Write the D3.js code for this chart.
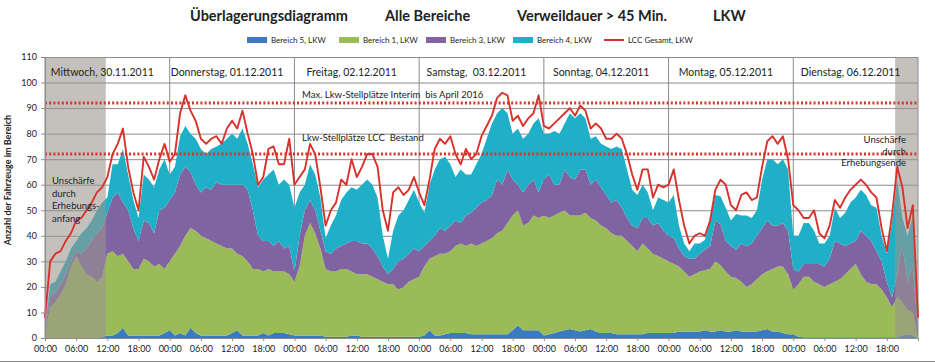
<!DOCTYPE html>
<html>
<head>
<meta charset="utf-8">
<script src="https://cdn.jsdelivr.net/npm/d3@7"></script>
<style>
  body { margin: 0; background: #fff; }
  svg { font-family: Lato, "Open Sans", sans-serif; }
  svg text { fill: #222; }
</style>
</head>
<body>
<svg id="chart" width="935" height="363"></svg>
<script>
// hourly values, Mi 30.11.2011 00:00 .. Mi 07.12.2011 00:00 (169 points)
var bereich5 = [0,0,0,0,0,0,0,0,0,0,0,
  0.5,1,1,2,4,1,1,1,1,1,
  1,1,2,3,1,2,1,4,2,1,
  1,1,1,1,1,2,3,1,1,1,
  1,2,1,2,2,2,1.5,1,1,1,
  1,1,1,0.5,0.5,0.5,0.5,0.5,1,1,
  0.5,0.5,0.5,0.5,0.5,0.5,0.5,0.5,0.5,0.5,
  0.5,0.5,1,3,1,1,1.5,2,2,2,
  2,1.5,1.5,1.5,1.5,1.5,1.5,1.5,1.5,3,
  5,3,3,3,3,1,1.5,2,2.5,3,
  3.5,3,2.5,3,3.5,2.5,2,2,2,1.5,
  1.5,1.5,1.5,1.5,1.5,2,2,2,2,2,
  2,2.5,2.5,2.5,2.5,2.5,3,2.5,2.5,3,
  2.5,2.5,3,2.5,2.5,2.5,2.5,3,3.5,2.5,
  2.5,2,1.5,1.5,0.5,0.3,0.3,0.3,0.3,0.3,
  0.3,0.3,0.3,0.3,0.3,0.3,0.3,0.3,0.3,0.3,
  0.3,0.3,0.3,0.3,1,1.5,1,0]
var bereich1 = [2,12,14,17,21,28,32,28,25,24,22,
  23.5,32,33,30,29,29,26,26,30,29,
  27,28,25,27,32,34,39,39,40,39,
  38,37,36,35,34,33,30,31,29,26,
  26,24,26,24,24,24,23.5,21,27,39,
  44,40,34,26.5,25.5,25.5,26.5,26.5,25,24,
  24.5,24.5,23.5,22.5,21.5,20.5,20.5,18.5,19.5,21.5,
  22.5,23.5,27,28,31,32,31.5,32,34,35,
  34,35.5,34.5,35.5,36.5,37.5,39.5,40.5,43.5,45,
  45,41,42,45,44,47,45.5,46,46.5,47,
  44.5,45,45.5,46,43.5,43.5,42,41,39,38.5,
  38.5,36.5,34.5,32.5,35.5,33,31,30,29,28,
  27,25.5,23.5,21.5,22.5,23.5,23.5,24.5,27.5,25.5,
  23.5,21.5,20.5,19.5,17.5,18.5,20.5,22,22.5,24.5,
  25.5,26,23.5,17.5,20.5,23.7,23.7,21.7,20.7,19.7,
  20.7,21.7,22.7,24.7,26.7,28.7,24.7,21.7,20.7,20.7,
  18.7,15.7,11.7,15.7,13,9.5,9,0]
var bereich3 = [1,4,4,4,4,2,2,5,10,14,19,
  19,16,21,25,20,20,16,11,15,15,
  13,21,24,24,24,28,27,22,18,17,
  20,20,24,24,25,25,27,28,28,23,
  13,12,11,10,12,9,11,4,12,10,
  9,9,7,7,7,9,9,10,12,13,
  12,12,11,9,6,4,6,11,11,11,
  12,10,8,7,8,10,9,10,10,8,
  12,12,15,16,16,17,21,18,21,14,
  10,13,15,14,10,14,17,12,11,16,
  15,14,18,17,13,16,15,13,12,14,
  11,9,8,9,10,12,11,13,11,10,
  10,7,6,7,6,7,8,9,16,16,
  12,12,11,15,16,16,17,18,20,17,
  16,17,17,8,5,5,5,7,8,8,
  10,16,14,11,10,9,17,18,17,13,
  11,6,4,9,22,11,18,3]
var bereich4 = [1,5,4,5,5,5,4,8,8,8,9,
  10,6,13,11,21,14,11,9,18,17,
  18,16,19,10,10,15,16,15,18,17,
  13,16,14,16,18,20,18,22,18,18,
  19,24,26,30,22,27,24,25,17,10,
  14,14,13,5,11,13,18,20,21,20,
  23,25,25,23,12,6,15,18,19,21,
  23,19,13,22,26,27,29,24,17,21,
  16,15,17,19,24,28,26,30,22,18,
  22,21,20,22,29,18,16,21,20,18,
  25,24,22,20,18,17,17,19,21,21,
  23,19,14,13,13,10,6,10,12,13,
  17,9,5,3,6,4,4,10,10,11,
  13,10,14,11,12,10,10,19,24,26,
  24,25,24,13,14,16,16,13,8,9,
  9,13,10,13,16,17,16,16,14,17,
  10,11,29,37,11,18,20,2]
var gesamt = [8,30,33,34,38,41,46,47,50,53,57,
  59,63,72,76,82,67,57,50,71,67,
  62,70,76,69,72,88,95,89,85,78,
  76,78,79,76,82,85,82,89,80,72,
  60,63,74,75,68,68,78,60,63,66,
  76,72,59,44,50,53,62,60,70,63,
  67,72,72,67,50,42,57,59,56,58,
  63,57,52,62,74,78,76,79,72,68,
  74,70,72,79,83,87,94,96,95,85,
  87,83,86,88,95,83,82,84,86,88,
  90,87,91,89,82,84,82,78,78,80,
  78,72,64,58,66,66,55,60,59,60,
  66,54,44,37,40,41,40,46,58,62,
  60,52,50,56,57,54,55,67,77,79,
  76,79,70,52,50,47,47,50,41,39,
  44,54,51,55,58,60,62,60,57,55,
  43,34,48,67,59,43,52,8]

var seriesNames = ["Bereich 5, LKW", "Bereich 1, LKW", "Bereich 3, LKW", "Bereich 4, LKW"]
var seriesColors = ["#3a7bc0", "#9bbb59", "#8064a2", "#1fb0c8"]
var lineName = "LCC Gesamt, LKW"
var lineColor = "#d8322c"
var days = ["Mittwoch, 30.11.2011", "Donnerstag, 01.12.2011", "Freitag, 02.12.2011",
  "Samstag,  03.12.2011", "Sonntag, 04.12.2011", "Montag, 05.12.2011", "Dienstag, 06.12.2011"]
var yTicks = [0, 10, 20, 30, 40, 50, 60, 70, 80, 90, 100, 110]
var limits = [
  { value: 92, label: "Max. Lkw-Stellplätze Interim  bis April 2016" },
  { value: 72, label: "Lkw-Stellplätze LCC  Bestand" }
]
// blurred periods at start/end of the survey (hours from start)
var shades = [[0, 11.7], [163.6, 168]]

var svg = d3.select("#chart")
var margin = { top: 57, right: 17, bottom: 25, left: 45 }
var w = 935 - margin.left - margin.right
var h = 363 - margin.top - margin.bottom
var start = new Date(2011, 10, 30, 0, 0)
var end = d3.timeHour.offset(start, 168)
var times = bereich5.map(function (d, i) { return d3.timeHour.offset(start, i) })

var x = d3.scaleTime().domain([start, end]).range([0, w])
var y = d3.scaleLinear().domain([0, 110]).range([h, 0])

// title
var titleParts = [["Überlagerungsdiagramm", 190], ["Alle Bereiche", 385], ["Verweildauer > 45 Min.", 517], ["LKW", 713]]
svg.selectAll(".title").data(titleParts).enter().append("text")
  .attr("x", function (d) { return d[1] }).attr("y", 21)
  .style("font-size", "14.5px").style("font-weight", "bold")
  .text(function (d) { return d[0] })

// legend
var legendX = [247, 339, 426, 513]
var legend = svg.append("g").style("font-size", "8px")
seriesNames.forEach(function (name, i) {
  legend.append("rect").attr("x", legendX[i]).attr("y", 37).attr("width", 20).attr("height", 6).attr("fill", seriesColors[i])
  legend.append("text").attr("x", legendX[i] + 24).attr("y", 43).text(name)
})
legend.append("line").attr("x1", 604).attr("x2", 624).attr("y1", 40).attr("y2", 40)
  .attr("stroke", lineColor).attr("stroke-width", 2)
legend.append("text").attr("x", 628).attr("y", 43).text(lineName)

var g = svg.append("g").attr("transform", "translate(" + margin.left + "," + margin.top + ")")

// gridlines
g.append("g")
  .call(d3.axisLeft(y).tickValues(yTicks).tickSize(-w).tickFormat(""))
  .call(function (s) { s.select(".domain").remove() })
  .selectAll("line").attr("stroke", "#8c8c8c")
var dayStarts = d3.timeDay.range(start, end)
g.selectAll(".dayline").data(dayStarts.concat([end])).enter().append("line")
  .attr("x1", function (d) { return x(d) }).attr("x2", function (d) { return x(d) })
  .attr("y1", 0).attr("y2", h).attr("stroke", "#8c8c8c")

// stacked areas
var rows = times.map(function (t, i) {
  return { t: t, vals: [bereich5[i], bereich1[i], bereich3[i], bereich4[i]] }
})
var stack = d3.stack().keys([0, 1, 2, 3]).value(function (d, k) { return d.vals[k] })
var area = d3.area()
  .x(function (d) { return x(d.data.t) })
  .y0(function (d) { return y(d[0]) })
  .y1(function (d) { return y(d[1]) })
g.selectAll(".layer").data(stack(rows)).enter().append("path")
  .attr("fill", function (d, i) { return seriesColors[i] })
  .attr("d", area)

// grey blurred periods
function hx(hours) { return x(d3.timeMinute.offset(start, hours * 60)) }
g.selectAll(".shade").data(shades).enter().append("rect")
  .attr("x", function (d) { return hx(d[0]) })
  .attr("width", function (d) { return hx(d[1]) - hx(d[0]) })
  .attr("y", 0).attr("height", h)
  .attr("fill", "#99958d").attr("opacity", 0.58)

// total line
var line = d3.line()
  .x(function (d, i) { return x(times[i]) })
  .y(function (d) { return y(d) })
g.append("path").datum(gesamt)
  .attr("fill", "none").attr("stroke", lineColor).attr("stroke-width", 1.9)
  .attr("stroke-linejoin", "round")
  .attr("d", line)

// parking limits
g.selectAll(".limit").data(limits).enter().append("line")
  .attr("x1", 0).attr("x2", w)
  .attr("y1", function (d) { return y(d.value) }).attr("y2", function (d) { return y(d.value) })
  .attr("stroke", "#d8322c").attr("stroke-width", 3).attr("stroke-dasharray", "2,2.2")
g.selectAll(".limitlabel").data(limits).enter().append("text")
  .attr("x", 257).attr("y", function (d, i) { return y(d.value) - (i === 0 ? 5 : 13) })
  .style("font-size", "9.5px").style("white-space", "pre")
  .text(function (d) { return d.label })

// day labels in the header row
g.selectAll(".daylabel").data(days).enter().append("text")
  .attr("x", function (d, i) { return x(d3.timeHour.offset(dayStarts[i], 12)) - 5 })
  .attr("y", 19)
  .attr("text-anchor", "middle")
  .style("font-size", "10.5px").style("white-space", "pre")
  .text(function (d) { return d })

// notes
var noteStart = ["Unschärfe", "durch", "Erhebungs-", "anfang"]
g.selectAll(".note1").data(noteStart).enter().append("text")
  .attr("x", 7).attr("y", function (d, i) { return 127 + i * 12.5 })
  .style("font-size", "9.5px").text(function (d) { return d })
var noteEnd = ["Unschärfe", "durch", "Erhebungsende"]
g.selectAll(".note2").data(noteEnd).enter().append("text")
  .attr("x", 861).attr("y", function (d, i) { return 86 + i * 11.5 })
  .attr("text-anchor", "end")
  .style("font-size", "9.5px").text(function (d) { return d })

// axes
var yAxis = g.append("g")
  .call(d3.axisLeft(y).tickValues(yTicks).tickSize(4).tickPadding(4))
yAxis.select(".domain").attr("stroke", "#8c8c8c")
yAxis.selectAll("line").attr("stroke", "#8c8c8c")
yAxis.selectAll("text").style("font-size", "9px").style("font-family", "Lato, sans-serif").attr("fill", "#333")

var xAxis = g.append("g").attr("transform", "translate(0," + h + ")")
  .call(d3.axisBottom(x).tickValues(d3.timeHour.every(6).range(start, end))
    .tickFormat(d3.timeFormat("%H:%M")).tickSize(3).tickPadding(5))
xAxis.select(".domain").attr("stroke", "#8c8c8c")
xAxis.selectAll("line").attr("stroke", "#8c8c8c")
xAxis.selectAll("text").style("font-size", "9px").style("font-family", "Lato, sans-serif").attr("fill", "#333")

// y axis title
svg.append("text")
  .attr("transform", "translate(11,180) rotate(-90)")
  .attr("text-anchor", "middle")
  .style("font-size", "9px").style("font-weight", "bold")
  .text("Anzahl der Fahrzeuge im Bereich")

// outer frame bottom
svg.append("line").attr("x1", 0).attr("x2", 935).attr("y1", 361.5).attr("y2", 361.5).attr("stroke", "#888")
</script>
</body>
</html>
